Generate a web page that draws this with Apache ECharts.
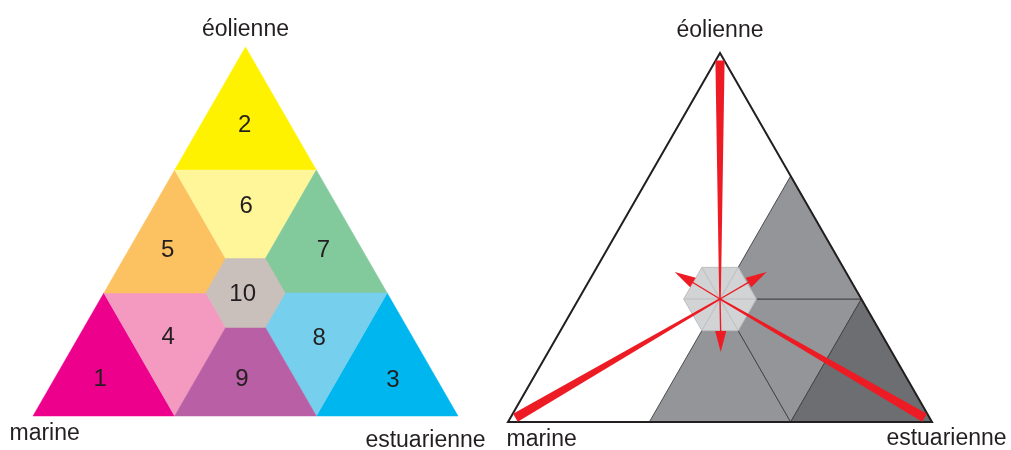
<!DOCTYPE html>
<html lang="fr">
<head>
<meta charset="UTF-8">
<title>Diagramme ternaire</title>
<script src="https://cdn.jsdelivr.net/npm/echarts@6/dist/echarts.min.js"></script>
</head>
<body style="margin:0;background:#fff">
<div id="main" style="width:1011px;height:450px;"></div>
<script>
// points en pas de grille : [estuarien, éolien], de 0 à 3 (marine = le reste)
var vertexPts = [[0, 3], [0, 0], [3, 0]];
var vertexNames = ['éolienne', 'marine', 'estuarienne'];

var zoneTris = [
    [[0, 0], [1, 0], [0, 1]],   // 1
    [[0, 2], [1, 2], [0, 3]],   // 2
    [[2, 0], [3, 0], [2, 1]],   // 3
    [[0, 1], [1, 1], [1, 0]],   // 4
    [[0, 1], [1, 1], [0, 2]],   // 5
    [[0, 2], [1, 2], [1, 1]],   // 6
    [[1, 1], [2, 1], [1, 2]],   // 7
    [[1, 1], [2, 1], [2, 0]],   // 8
    [[1, 0], [2, 0], [1, 1]]    // 9
];
var zoneColors = ['#ec008c', '#fff200', '#00b6ee', '#f49ac1', '#fcc160',
                  '#fff69a', '#82c99c', '#77cfee', '#b95fa5'];
var labelText = ['1', '2', '3', '4', '5', '6', '7', '8', '9', '10'];
var labelPos = [[0.32, 0.31], [0.31, 2.37], [2.39, 0.30], [0.63, 0.65], [0.27, 1.36],
                [0.65, 1.71], [1.37, 1.36], [1.70, 0.64], [1.32, 0.31], [0.98, 1.0]];

// zone 10 : hexagone central
var hexCenter = [1, 1];
var hexHalf = [0.28, 0.257];   // gauche, droite

// figure de droite : zones grisées (9, 8, 7, 3)
var greyZones = [8, 7, 6, 2];
var greyColors = ['#939598', '#939598', '#939598', '#6d6e71'];
var arrowStart = [[0.03, 2.94], [0.035, 0.035], [2.93, 0.035]];
var arrowTip = [[1.22, 0.57], [1.22, 1.22], [0.57, 1.22]];

var INK = '#231f20';
var RED = '#ed1c24';
var FONT = '"Liberation Sans", Arial, Helvetica, sans-serif';

function tern(p) {
    return [(p[0] + p[1] / 2) / 3, p[1] / 3];
}
function hexPts(c, h) {
    return [[c[0] + h, c[1]], [c[0], c[1] + h], [c[0] - h, c[1] + h],
            [c[0] - h, c[1]], [c[0], c[1] - h], [c[0] + h, c[1] - h]];
}
function centroid(t) {
    return tern([(t[0][0] + t[1][0] + t[2][0]) / 3, (t[0][1] + t[1][1] + t[2][1]) / 3]);
}

var myChart = echarts.init(document.getElementById('main'), null, {renderer: 'canvas'});

// décalage des noms de sommets (pixels) : [dx, dy, align]
var nameOffsets = [
    [[0, -17, 'center'], [-23.5, 18, 'left'], [-32.5, 25, 'center']],
    [[0, -22, 'center'], [-1.5, 18, 'left'], [14.5, 17, 'center']]
];

function nameSeries(g) {
    return {
        type: 'custom', xAxisIndex: g, yAxisIndex: g, silent: true, z: 10,
        data: vertexPts.map(tern),
        renderItem: function (params, api) {
            var p = api.coord(tern(vertexPts[params.dataIndex]));
            var o = nameOffsets[g][params.dataIndex];
            return {
                type: 'text', x: p[0] + o[0], y: p[1] + o[1],
                style: {text: vertexNames[params.dataIndex], fill: INK, fontSize: 23,
                        fontFamily: FONT, align: o[2], verticalAlign: 'middle'}
            };
        }
    };
}

function hexSeries(g, fill, line) {
    return {
        type: 'custom', xAxisIndex: g, yAxisIndex: g, silent: true, z: 4,
        data: [tern(hexCenter)],
        renderItem: function (params, api) {
            var pts = hexPts(hexCenter, hexHalf[g]).map(function (p) { return api.coord(tern(p)); });
            var c = api.coord(tern(hexCenter));
            var kids = [{type: 'polygon', shape: {points: pts},
                         style: {fill: fill, stroke: line || fill, lineWidth: line ? 1 : 0.5}}];
            if (line) {
                pts.forEach(function (p) {
                    kids.push({type: 'line', shape: {x1: c[0], y1: c[1], x2: p[0], y2: p[1]},
                               style: {stroke: line, lineWidth: 1}});
                });
            }
            return {type: 'group', children: kids};
        }
    };
}

var series = [
    // gauche : zones colorées
    {
        type: 'custom', xAxisIndex: 0, yAxisIndex: 0, silent: true, z: 2,
        data: zoneTris.map(centroid),
        renderItem: function (params, api) {
            var i = params.dataIndex;
            var pts = zoneTris[i].map(function (p) { return api.coord(tern(p)); });
            return {type: 'polygon', shape: {points: pts},
                    style: {fill: zoneColors[i], stroke: zoneColors[i], lineWidth: 0.5}};
        }
    },
    hexSeries(0, '#c9c0bb', null),
    // gauche : numéros
    {
        type: 'custom', xAxisIndex: 0, yAxisIndex: 0, silent: true, z: 6,
        data: labelPos.map(tern),
        renderItem: function (params, api) {
            var p = api.coord(tern(labelPos[params.dataIndex]));
            return {type: 'text', x: p[0], y: p[1] + 1.2,
                    style: {text: labelText[params.dataIndex], fill: INK, fontSize: 24,
                            fontFamily: FONT, align: 'center', verticalAlign: 'middle'}};
        }
    },
    nameSeries(0),

    // droite : zones grises
    {
        type: 'custom', xAxisIndex: 1, yAxisIndex: 1, silent: true, z: 2,
        data: greyZones.map(function (k) { return centroid(zoneTris[k]); }),
        renderItem: function (params, api) {
            var i = params.dataIndex;
            var pts = zoneTris[greyZones[i]].map(function (p) { return api.coord(tern(p)); });
            return {type: 'polygon', shape: {points: pts},
                    style: {fill: greyColors[i], stroke: '#414042', lineWidth: 0.9}};
        }
    },
    // droite : contour du triangle
    {
        type: 'custom', xAxisIndex: 1, yAxisIndex: 1, silent: true, z: 3,
        data: [tern([1, 1])],
        renderItem: function (params, api) {
            var pts = vertexPts.map(function (p) { return api.coord(tern(p)); });
            return {type: 'polygon', shape: {points: pts},
                    style: {fill: 'none', stroke: INK, lineWidth: 2}};
        }
    },
    hexSeries(1, '#d1d3d4', '#bcbec0'),
    // droite : flèches rouges
    {
        type: 'custom', xAxisIndex: 1, yAxisIndex: 1, silent: true, z: 8,
        data: arrowStart.map(tern),
        renderItem: function (params, api) {
            var i = params.dataIndex;
            var S = api.coord(tern(arrowStart[i]));
            var C = api.coord(tern(hexCenter));
            var T = api.coord(tern(arrowTip[i]));
            var dx = C[0] - S[0], dy = C[1] - S[1];
            var L = Math.sqrt(dx * dx + dy * dy);
            var ux = dx / L, uy = dy / L, nx = -uy, ny = ux;
            var w0 = 4.6, w1 = 0.8, headLen = 21, headHalf = 5.6;
            var B = [T[0] - ux * headLen, T[1] - uy * headLen];
            return {
                type: 'group',
                children: [
                    {type: 'polygon', shape: {points: [
                        [S[0] + nx * w0, S[1] + ny * w0], [C[0] + nx * w1, C[1] + ny * w1],
                        [C[0] - nx * w1, C[1] - ny * w1], [S[0] - nx * w0, S[1] - ny * w0]]},
                     style: {fill: RED}},
                    {type: 'line', shape: {x1: C[0], y1: C[1], x2: B[0] + ux * 2, y2: B[1] + uy * 2},
                     style: {stroke: RED, lineWidth: 1.4}},
                    {type: 'polygon', shape: {points: [
                        T, [B[0] + nx * headHalf, B[1] + ny * headHalf],
                        [B[0] - nx * headHalf, B[1] - ny * headHalf]]},
                     style: {fill: RED}}
                ]
            };
        }
    },
    nameSeries(1)
];

var option = {
    animation: false,
    backgroundColor: '#ffffff',
    grid: [
        {left: 33, top: 47, width: 425, height: 369},
        {left: 508, top: 53, width: 424, height: 369}
    ],
    xAxis: [
        {gridIndex: 0, type: 'value', min: 0, max: 1, show: false},
        {gridIndex: 1, type: 'value', min: 0, max: 1, show: false}
    ],
    yAxis: [
        {gridIndex: 0, type: 'value', min: 0, max: 1, show: false},
        {gridIndex: 1, type: 'value', min: 0, max: 1, show: false}
    ],
    series: series
};

myChart.setOption(option);
</script>
</body>
</html>
